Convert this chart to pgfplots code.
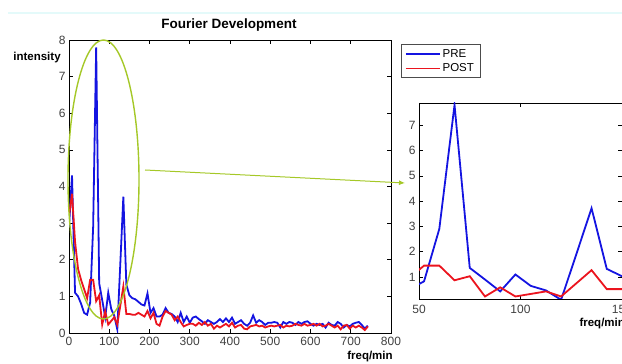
\documentclass[border=0pt]{standalone}
\usepackage{pgfplots}
\pgfplotsset{compat=1.18}
\usepackage{pgfplotstable}
\usepackage{fontspec}
\setmainfont{Liberation Sans}
\usetikzlibrary{arrows.meta}
\definecolor{preblue}{RGB}{20,20,225}
\definecolor{postred}{RGB}{235,20,30}
\definecolor{ygreen}{RGB}{165,200,40}
\definecolor{lightcyan}{RGB}{228,250,250}

\pgfplotstableread{
x y
0 2.9
7.5 4.3
15 1.1
22.5 1.0
30 0.8
37.5 0.55
45 0.5
52.5 0.83
60 2.9
67.5 7.8
75 1.36
82.5 0.9
90 0.43
97.5 1.1
105 0.65
112.5 0.47
120 0.1
127.5 1.9
135 3.72
142.5 1.32
150 1.03
157.5 0.95
165 0.92
172.5 0.85
180 0.78
187.5 0.75
195 1.08
202.5 0.55
210 0.68
217.5 0.45
225 0.45
232.5 0.5
240 0.68
247.5 0.55
255 0.52
262.5 0.45
270 0.3
277.5 0.55
285 0.3
292.5 0.45
300 0.28
307.5 0.42
315 0.45
322.5 0.38
330 0.32
337.5 0.25
345 0.35
352.5 0.3
360 0.25
367.5 0.3
375 0.38
382.5 0.3
390 0.4
397.5 0.3
405 0.42
412.5 0.25
420 0.3
427.5 0.35
435 0.25
442.5 0.2
450 0.28
457.5 0.48
465 0.28
472.5 0.35
480 0.3
487.5 0.22
495 0.28
502.5 0.28
510 0.3
517.5 0.28
525 0.15
532.5 0.3
540 0.25
547.5 0.3
555 0.28
562.5 0.22
570 0.3
577.5 0.25
585 0.3
592.5 0.32
600 0.25
607.5 0.2
615 0.25
622.5 0.22
630 0.25
637.5 0.15
645 0.28
652.5 0.22
660 0.2
667.5 0.3
675 0.25
682.5 0.15
690 0.22
697.5 0.18
705 0.25
712.5 0.28
720 0.3
727.5 0.22
735 0.12
742.5 0.2
}\pre

\pgfplotstableread{
x y
0 3.2
7.5 3.8
15 2.5
22.5 1.75
30 1.45
37.5 1.2
45 0.95
52.5 1.45
60 1.45
67.5 0.87
75 1.03
82.5 0.23
90 0.59
97.5 0.23
105 0.33
112.5 0.43
120 0.23
127.5 0.75
135 1.27
142.5 0.52
150 0.52
157.5 0.5
165 0.5
172.5 0.55
180 0.5
187.5 0.45
195 0.6
202.5 0.4
210 0.55
217.5 0.25
225 0.2
232.5 0.45
240 0.6
247.5 0.55
255 0.5
262.5 0.35
270 0.45
277.5 0.3
285 0.18
292.5 0.22
300 0.25
307.5 0.25
315 0.2
322.5 0.28
330 0.22
337.5 0.3
345 0.2
352.5 0.25
360 0.12
367.5 0.2
375 0.15
382.5 0.2
390 0.25
397.5 0.18
405 0.28
412.5 0.15
420 0.2
427.5 0.22
435 0.12
442.5 0.1
450 0.18
457.5 0.2
465 0.22
472.5 0.18
480 0.2
487.5 0.15
495 0.18
502.5 0.2
510 0.18
517.5 0.2
525 0.22
532.5 0.15
540 0.2
547.5 0.18
555 0.2
562.5 0.25
570 0.22
577.5 0.2
585 0.25
592.5 0.2
600 0.22
607.5 0.25
615 0.2
622.5 0.25
630 0.18
637.5 0.2
645 0.25
652.5 0.2
660 0.15
667.5 0.2
675 0.1
682.5 0.2
690 0.22
697.5 0.12
705 0.2
712.5 0.15
720 0.2
727.5 0.15
735 0.08
742.5 0.18
}\post

\pgfplotsset{
  matlab/.style={
    scale only axis,
    anchor=south west,
    tick align=inside,
    xtick pos=both, ytick pos=both,
    major tick length=4pt,
    axis line style={black, line width=0.7pt},
    tick style={black, line width=0.6pt},
    tick label style={font=\fontsize{12}{14}\selectfont, text=black!75},
    /pgf/number format/assume math mode=true,
  }
}

\begin{document}
\begin{tikzpicture}[x=1pt,y=1pt]
\useasboundingbox (0,0) rectangle (622,364);
\draw[lightcyan, line width=2.5pt] (8,351) -- (622,351);

\begin{axis}[matlab,
  at={(69pt,31pt)}, width=322pt, height=293pt,
  xmin=0, xmax=800, ymin=0, ymax=8,
  xtick={0,100,...,800}, ytick={0,1,...,8},
  xticklabel style={yshift=-1pt},
  legend style={at={(1.03,0.985)}, anchor=north west, draw=black!70,
    line width=0.7pt,
    font=\fontsize{11.5}{13}\selectfont, inner xsep=4pt, inner ysep=2.5pt,
    row sep=1pt, cells={anchor=west}},
  legend image code/.code={\draw[#1, line width=1.6pt] (0pt,0pt) -- (34pt,0pt);},
]
\addplot[preblue, line width=1.8pt] table[x=x,y=y] {\pre};
\addplot[postred, line width=1.8pt] table[x=x,y=y] {\post};
\legend{PRE,POST}
\end{axis}

\begin{axis}[matlab,
  at={(419pt,65pt)}, width=203pt, height=196pt,
  xmin=50, xmax=150, ymin=0.13, ymax=7.88,
  xtick={50,100,150}, ytick={1,...,7},
  xticklabel style={yshift=-3pt},
]
\addplot[preblue, line width=1.8pt] table[x=x,y=y] {\pre};
\addplot[postred, line width=1.8pt] table[x=x,y=y] {\post};
\end{axis}

\draw[ygreen, line width=1.4pt] (103.5,184.5) ellipse [x radius=35.5, y radius=139.5];
\draw[ygreen, line width=1pt, -{Latex[length=6pt,width=5pt]}] (145,194) -- (405,181);

\node[font=\bfseries\fontsize{13.5}{16}\selectfont] at (229,339) {Fourier Development};
\node[font=\bfseries\fontsize{11.5}{14}\selectfont] at (37,306) {intensity};
\node[font=\bfseries\fontsize{11.5}{14}\selectfont] at (370,7) {freq/min};
\node[font=\bfseries\fontsize{11.5}{14}\selectfont, anchor=west] at (576,40) {freq/min};
\end{tikzpicture}
\end{document}
